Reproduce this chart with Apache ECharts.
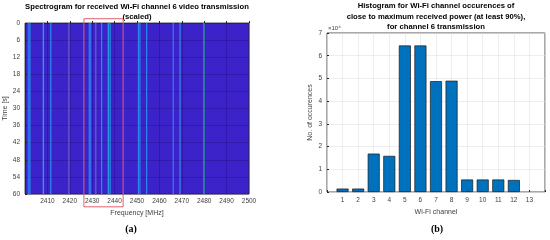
<!DOCTYPE html>
<html>
<head>
<meta charset="utf-8">
<script src="https://cdn.jsdelivr.net/npm/echarts@6/dist/echarts.min.js"></script>
<style>
  html, body { margin: 0; padding: 0; background: #fff; }
  #chart { width: 550px; height: 240px; }
</style>
</head>
<body>
<div id="chart"></div>
<script>
// (a) spectrogram: frequencies (MHz) of the bins that stand out, and their level (0..1)
const lineFreqs = [2401.5, 2402.2, 2408.2, 2411.5, 2419.6, 2428.7, 2429.3, 2431.6, 2434.2,
  2437.2, 2438.0, 2450.6, 2451.3, 2454.3, 2466.2, 2469.2, 2479.9];
const lineLevels = [0.5, 0.6, 0.75, 0.6, 0.3, 0.55, 0.5, 0.3, 0.6,
  0.7, 0.6, 0.6, 0.55, 0.6, 0.55, 0.6, 0.95];
const timeRange = [0, 60];
// red frame around channel 6 (MHz, s)
const boxFreq = [2426.3, 2443.8];
const boxTime = [-1.5, 64.5];

// (b) histogram of channel occurrences
const channels = [1, 2, 3, 4, 5, 6, 7, 8, 9, 10, 11, 12, 13];
const occurrences = [1500, 1500, 16900, 15900, 64500, 64500, 48800, 49000, 5500, 5500, 5500, 5300, 0];

const chart = echarts.init(document.getElementById('chart'));
const font = 'Liberation Sans, Arial, sans-serif';
const tickText = { fontFamily: font, fontSize: 6.5, color: '#404040' };

function renderLine(params, api) {
  const f = api.value(0);
  const p0 = api.coord([f - 0.3, timeRange[0]]);
  const p1 = api.coord([f + 0.3, timeRange[1]]);
  return {
    type: 'rect',
    shape: { x: p0[0], y: p0[1], width: Math.max(1, p1[0] - p0[0]), height: p1[1] - p0[1] },
    style: { fill: api.visual('color') }
  };
}

function renderBox(params, api) {
  const p0 = api.coord([api.value(0), api.value(2)]);
  const p1 = api.coord([api.value(1), api.value(3)]);
  return {
    type: 'rect',
    shape: { x: p0[0], y: p0[1], width: p1[0] - p0[0], height: p1[1] - p0[1] },
    style: { fill: 'none', stroke: '#e2606c', lineWidth: 1 }
  };
}

const titleText = { fontFamily: font, fontSize: 7.7, fontWeight: 'bold', color: '#000' };
const captionText = { fontFamily: 'Liberation Serif, Times New Roman, serif', fontSize: 10, fontWeight: 'bold', color: '#000' };

const options = {
  animation: false,
  title: [
    {
      text: 'Spectrogram for received Wi-Fi channel 6 video transmission\n(scaled)',
      left: 137, top: 2, textAlign: 'center', padding: 0,
      textStyle: { ...titleText, lineHeight: 10 }
    },
    {
      text: 'Histogram for Wi-Fi channel occurences of\nclose to maximum received power (at least 90%),\nfor channel 6 transmission',
      left: 436, top: 1, textAlign: 'center', padding: 0,
      textStyle: { ...titleText, lineHeight: 10.3 }
    },
    { text: '(a)', left: 131, top: 224, textAlign: 'center', padding: 0, textStyle: captionText },
    { text: '(b)', left: 437, top: 224, textAlign: 'center', padding: 0, textStyle: captionText }
  ],
  graphic: [
    {
      type: 'text', left: 328, top: 25,
      style: { text: '×10⁴', fontFamily: font, fontSize: 6, fill: '#404040' }
    }
  ],
  visualMap: {
    show: false, type: 'continuous', seriesIndex: 0, dimension: 1, min: 0, max: 1,
    inRange: { color: ['#3b22c9', '#6a5cbc', '#2d6ff0', '#1ea6d6', '#2aa586'] }
  },
  grid: [
    { left: 25, top: 23, width: 224, height: 171, show: true, backgroundColor: '#3b22c9',
      borderColor: '#262626', borderWidth: 0.8 },
    { left: 327, top: 33, width: 218, height: 159, show: true, backgroundColor: '#fff',
      borderColor: '#262626', borderWidth: 0.8 }
  ],
  xAxis: [
    {
      gridIndex: 0, type: 'value', min: 2400, max: 2500, interval: 10,
      name: 'Frequency [MHz]', nameLocation: 'middle', nameGap: 13,
      nameTextStyle: { fontFamily: font, fontSize: 7, color: '#404040' },
      axisLine: { show: false },
      axisTick: { inside: true, length: 2, lineStyle: { color: '#262626' } },
      axisLabel: { ...tickText, margin: 4, showMinLabel: false, formatter: v => String(v) },
      splitLine: { show: true, lineStyle: { color: 'rgba(30,0,90,0.45)', width: 0.6 } }
    },
    {
      gridIndex: 1, type: 'value', min: 0, max: 14, interval: 1,
      name: 'Wi-Fi channel', nameLocation: 'middle', nameGap: 13,
      nameTextStyle: { fontFamily: font, fontSize: 7, color: '#404040' },
      axisLine: { show: false },
      axisTick: { inside: true, length: 2, lineStyle: { color: '#262626' } },
      axisLabel: { ...tickText, margin: 5, formatter: v => (v >= 1 && v <= 13 ? String(v) : '') },
      splitLine: { show: true, lineStyle: { color: '#e3e3e3', width: 0.6 } }
    }
  ],
  yAxis: [
    {
      gridIndex: 0, type: 'value', min: 0, max: 60, interval: 6, inverse: true,
      name: 'Time [s]', nameLocation: 'middle', nameGap: 14, nameRotate: 90,
      nameTextStyle: { fontFamily: font, fontSize: 7, color: '#404040' },
      axisLine: { show: false },
      axisTick: { inside: true, length: 2, lineStyle: { color: '#262626' } },
      axisLabel: { ...tickText, margin: 5 },
      splitLine: { show: true, lineStyle: { color: 'rgba(30,0,90,0.45)', width: 0.6 } }
    },
    {
      gridIndex: 1, type: 'value', min: 0, max: 70000, interval: 10000,
      name: 'No. of occurences', nameLocation: 'middle', nameGap: 13, nameRotate: 90,
      nameTextStyle: { fontFamily: font, fontSize: 7, color: '#404040' },
      axisLine: { show: false },
      axisTick: { inside: true, length: 2, lineStyle: { color: '#262626' } },
      axisLabel: { ...tickText, margin: 5, formatter: v => String(v / 10000) },
      splitLine: { show: true, lineStyle: { color: '#e3e3e3', width: 0.6 } }
    }
  ],
  series: [
    {
      type: 'custom', xAxisIndex: 0, yAxisIndex: 0,
      data: lineFreqs.map((f, i) => [f, lineLevels[i]]),
      renderItem: renderLine, z: 2
    },
    {
      type: 'custom', xAxisIndex: 0, yAxisIndex: 0, clip: false,
      data: [[boxFreq[0], boxFreq[1], boxTime[0], boxTime[1]]],
      renderItem: renderBox, z: 10
    },
    {
      type: 'bar', xAxisIndex: 1, yAxisIndex: 1,
      // an empty channel draws no bar
      data: channels.map((c, i) => [c, occurrences[i] > 0 ? occurrences[i] : '-']),
      barWidth: 12,
      itemStyle: { color: '#0072bd', borderColor: '#1a1a1a', borderWidth: 0.7 }
    }
  ]
};

chart.setOption(options);
</script>
</body>
</html>
